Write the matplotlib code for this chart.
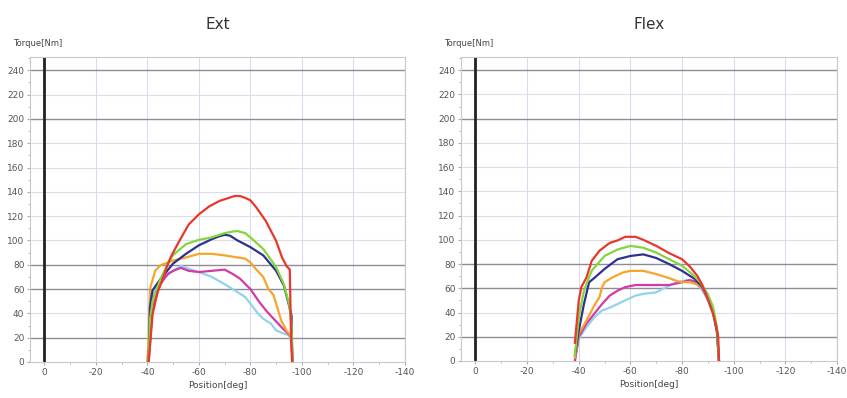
import numpy as np
import matplotlib.pyplot as plt

# Ext panel curves: position [deg], torque [Nm]
ext_pos_red = [-40.5, -42, -44, -45.8, -47.5, -49, -52, -56, -60, -64, -68, -71.6, -74, -76, -78, -80, -82, -86, -90, -92.3, -94, -95.3, -95.8, -96.2]
ext_tq_red = [0, 39, 58, 67, 78, 86, 98, 113, 121.5, 128, 132.5, 135, 136.6, 136.5, 135, 133, 128, 116, 99.6, 86, 79, 76, 20, 0]
ext_pos_green = [-40.5, -41, -42, -45, -48, -50, -55, -60, -65, -70, -73, -75, -78, -80, -85, -90, -93, -95, -96, -96.3]
ext_tq_green = [0, 35, 50, 68, 81, 88, 97, 100.5, 102.5, 106, 107.3, 107.7, 106, 102.5, 93, 78, 64, 48, 31, 0]
ext_pos_blue = [-40.5, -41, -42, -45, -50, -55, -60, -65, -68, -70, -72, -75, -80, -85, -90, -93, -95, -96, -96.3]
ext_tq_blue = [0, 45, 59, 68, 81, 89, 96, 101, 103.5, 104.6, 104, 100, 94.5, 87.7, 75, 63, 46.6, 38, 0]
ext_pos_orange = [-40, -40.5, -41, -43, -45, -50, -55, -60, -65, -70, -75, -78, -80, -82, -85, -87, -89, -90, -92, -94, -96, -96.3]
ext_tq_orange = [0, 20, 60, 75, 79.5, 83.5, 86, 89, 89, 87.7, 86, 85, 82, 76.7, 70, 60, 55, 48, 34, 26, 20.5, 0]
ext_pos_magenta = [-40.5, -42, -45, -48, -50, -53, -56, -60, -65, -70, -73, -76, -80, -83, -86, -89, -92, -94, -96, -96.3]
ext_tq_magenta = [0, 45, 64, 72.6, 75, 77.5, 75, 74, 75, 76, 72.6, 68.5, 60, 50.7, 42.5, 35.6, 28.8, 24.6, 20.5, 0]
ext_pos_cyan = [-40, -42, -45, -50, -53, -56, -60, -65, -70, -75, -78, -80, -83, -85, -88, -90, -93, -95, -96, -96.3]
ext_tq_cyan = [0, 55, 67, 75, 79, 76.7, 74, 70, 64, 57.5, 53.4, 48, 39.7, 35.6, 31.5, 26, 23.3, 22, 15, 0]

# Flex panel curves
flex_pos_red = [-38.5, -39, -40, -41, -43, -45, -48, -52, -55, -58, -62, -65, -70, -75, -80, -83, -86, -88, -90, -92, -93, -94, -94.3]
flex_tq_red = [15, 27, 50, 61, 69, 82.6, 91, 97.5, 99.5, 102.5, 102.5, 100, 95, 89, 84, 78, 70, 62, 51, 39, 31, 20, 0]
flex_pos_green = [-38.5, -40, -42, -45, -50, -55, -60, -65, -70, -75, -80, -84, -87, -90, -92, -93.5, -94.3]
flex_tq_green = [5, 36, 58, 74.5, 86.7, 92, 95, 93.5, 89.5, 84, 78.6, 71.6, 65, 55, 44.5, 28, 0]
flex_pos_blue = [-38.5, -40, -42, -44, -46, -50, -55, -60, -65, -70, -75, -80, -85, -88, -90, -92, -93.5, -94.3]
flex_tq_blue = [5, 25, 47, 65, 68.5, 76, 84, 86.7, 88, 85, 80, 74.4, 67.6, 60.8, 52.6, 41.7, 25, 0]
flex_pos_orange = [-38.5, -40, -43, -46, -48, -49, -50, -53, -57, -60, -65, -70, -75, -78, -80, -83, -86, -88, -90, -92, -93.5, -94.3]
flex_tq_orange = [3, 22.6, 33.5, 45.8, 52.6, 60.8, 65, 69, 73, 74.4, 74.4, 71.7, 68.4, 66, 65, 65, 63, 60, 52.6, 41.7, 25, 0]
flex_pos_magenta = [-38.5, -40, -43, -46, -49, -52, -55, -58, -62, -66, -70, -75, -80, -83, -85, -88, -90, -92, -93.5, -94.3]
flex_tq_magenta = [0, 20, 31, 39, 47, 54, 58, 61, 62.7, 62.7, 62.7, 62.7, 65, 66.8, 65.7, 59.4, 51, 40, 25, 0]
flex_pos_cyan = [-38.5, -40, -43, -46, -49, -52, -55, -58, -62, -65, -70, -74, -78, -82, -85, -88, -90, -92, -93.5, -94.3]
flex_tq_cyan = [0, 18.5, 28, 36, 41.7, 44, 47, 50, 54, 55.4, 56.7, 61, 65, 66.8, 65, 58, 50, 39, 22.6, 0]

colors = {'red': '#e8372c', 'green': '#84d43c', 'blue': '#2e3192',
          'orange': '#f6a52a', 'magenta': '#d43aa6', 'cyan': '#92d3ea'}
# drawing order back to front
order = ['cyan', 'magenta', 'orange', 'blue', 'green', 'red']

ext = {
    'red': (ext_pos_red, ext_tq_red), 'green': (ext_pos_green, ext_tq_green),
    'blue': (ext_pos_blue, ext_tq_blue), 'orange': (ext_pos_orange, ext_tq_orange),
    'magenta': (ext_pos_magenta, ext_tq_magenta), 'cyan': (ext_pos_cyan, ext_tq_cyan),
}
flex = {
    'red': (flex_pos_red, flex_tq_red), 'green': (flex_pos_green, flex_tq_green),
    'blue': (flex_pos_blue, flex_tq_blue), 'orange': (flex_pos_orange, flex_tq_orange),
    'magenta': (flex_pos_magenta, flex_tq_magenta), 'cyan': (flex_pos_cyan, flex_tq_cyan),
}

dark_rows = [20, 60, 80, 200, 240]


def panel(fig, rect, title, curves):
    ax = fig.add_axes(rect)
    ax.set_xlim(5.6, -140)
    ax.set_ylim(0, 251)
    ax.set_xticks(np.arange(0, -141, -20))
    ax.set_xticklabels([str(v) for v in range(0, -141, -20)])
    ax.set_yticks(np.arange(0, 241, 20))
    ax.set_xticks(np.arange(-10, -141, -20), minor=True)
    ax.set_yticks(np.arange(10, 251, 20), minor=True)
    ax.tick_params(which='both', labelsize=6.5, labelcolor='#555555', color='#aaaaaa',
                   length=2, direction='out', pad=2)
    ax.tick_params(which='minor', length=1.5)

    # grid
    for v in range(-20, -141, -20):
        ax.axvline(v, color='#d6dbee', lw=0.8, zorder=0)
    for v in range(20, 241, 20):
        if v in dark_rows:
            ax.axhline(v, color='#8c8c96', lw=1.0, zorder=0)
        else:
            ax.axhline(v, color='#dcdfea', lw=0.8, zorder=0)
    ax.axvline(0, color='#222222', lw=2.0, zorder=1)

    for s in ax.spines.values():
        s.set_color('#c8c8d0')
        s.set_linewidth(0.8)

    for name in order:
        x, y = curves[name]
        ax.plot(x, y, color=colors[name], lw=1.6, zorder=3)

    ax.set_xlabel('Position[deg]', fontsize=6.5, color='#444444', labelpad=3)
    ax.set_title(title, fontsize=11, color='#333333', pad=20)
    ax.text(-0.045, 1.045, 'Torque[Nm]', transform=ax.transAxes, fontsize=6,
            color='#444444', ha='left', va='center')
    return ax


fig = plt.figure(figsize=(8.47, 3.98), dpi=100)
panel(fig, [0.0354, 0.0905, 0.4426, 0.7665], 'Ext', ext)
panel(fig, [0.5443, 0.093, 0.4439, 0.764], 'Flex', flex)
fig.savefig('out.png', dpi=100, facecolor='white')
